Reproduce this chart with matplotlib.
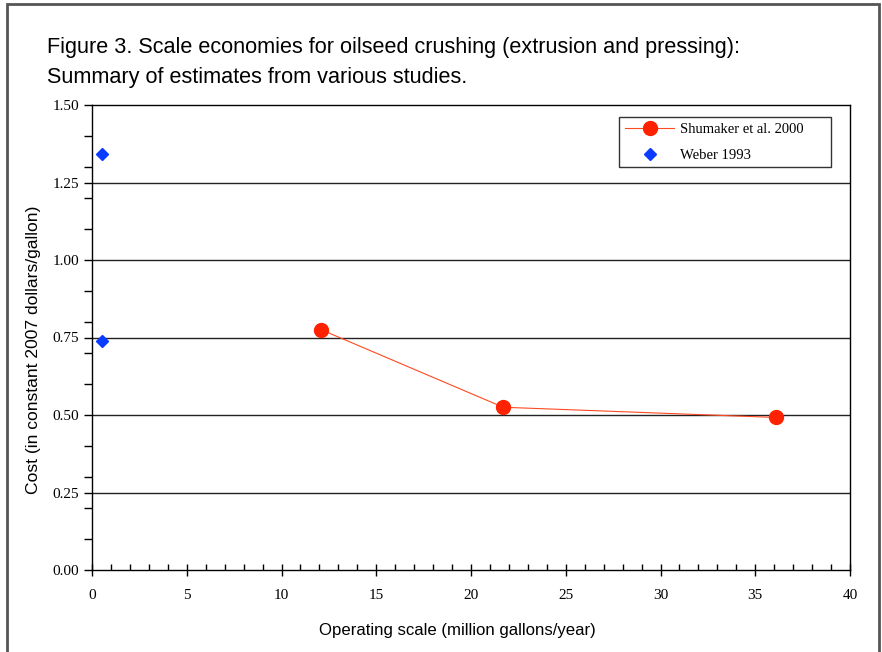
import matplotlib.pyplot as plt
from matplotlib.patches import Rectangle
from matplotlib.ticker import MultipleLocator

# data
shumaker_scale = [12.1, 21.7, 36.1]
shumaker_cost = [0.775, 0.525, 0.492]
weber_scale = [0.55, 0.55]
weber_cost = [1.342, 0.740]

narrow = ['Liberation Sans', 'DejaVu Sans']
serif = ['Liberation Serif', 'DejaVu Serif']

fig = plt.figure(figsize=(8.82, 6.52), dpi=100)
W, H = 882, 652
ax = fig.add_axes([92 / W, 1 - 570 / H, (850 - 92) / W, (570 - 105) / H])

# frame around the whole figure
fig.patches.append(Rectangle((7 / W, -0.05), (879 - 7) / W, 1.05 - 4 / H,
                             transform=fig.transFigure, fill=False,
                             edgecolor='#555555', linewidth=2))

fig.text(47 / W, 1 - 47 / H, "Figure 3. Scale economies for oilseed crushing (extrusion and pressing):",
         family=narrow, fontsize=15.6, va='center', ha='left')
fig.text(47 / W, 1 - 77 / H, "Summary of estimates from various studies.",
         family=narrow, fontsize=15.6, va='center', ha='left')

for yv in [0.25, 0.5, 0.75, 1.0, 1.25]:
    ax.axhline(yv, color='#222222', linewidth=1, zorder=1)

ax.plot(shumaker_scale, shumaker_cost, color='#ff4a20', linewidth=0.8,
        marker='o', markersize=10, markerfacecolor='#ff2200',
        markeredgecolor='#ff2200', label='Shumaker et al. 2000', zorder=3)
ax.plot(weber_scale, weber_cost, linestyle='none', marker='D', markersize=6,
        color='#0a3cff', label='Weber 1993', zorder=3)

ax.set_xlim(0, 40)
ax.set_ylim(0, 1.5)
ax.xaxis.set_major_locator(MultipleLocator(5))
ax.xaxis.set_minor_locator(MultipleLocator(1))
ax.yaxis.set_major_locator(MultipleLocator(0.25))
ax.yaxis.set_minor_locator(MultipleLocator(0.1))
ax.yaxis.set_major_formatter(plt.FuncFormatter(lambda v, p: f"{v:.2f}"))

ax.tick_params(axis='x', which='major', direction='inout', length=8, width=1, pad=10)
ax.tick_params(axis='x', which='minor', direction='in', length=4, width=1)
ax.tick_params(axis='y', which='both', direction='out', length=6, width=1)
for lab in ax.get_xticklabels() + ax.get_yticklabels():
    lab.set_family(serif)
    lab.set_fontsize(11)

for s in ax.spines.values():
    s.set_linewidth(1)
    s.set_color('black')

ax.set_xlabel("Operating scale (million gallons/year)", family=narrow, fontsize=12.1, va='center')
ax.set_ylabel("Cost (in constant 2007 dollars/gallon)", family=narrow, fontsize=12.6, va='center')
ax.xaxis.set_label_coords((457 - 92) / 758, (570 - 631) / 465)
ax.yaxis.set_label_coords((34 - 92) / 758, (570 - 350) / 465)

leg = ax.legend(loc='upper left', mode='expand',
                bbox_to_anchor=(619 / W, 1 - 168 / H, (831 - 619) / W, 51 / H),
                bbox_transform=fig.transFigure, borderaxespad=0, frameon=True,
                fancybox=False, prop={'family': serif, 'size': 10.5},
                borderpad=0.4, labelspacing=0.85, handlelength=3.4,
                handletextpad=0.4)
leg.get_frame().set_edgecolor('black')
leg.get_frame().set_linewidth(1)

fig.savefig("out.png", dpi=100)
